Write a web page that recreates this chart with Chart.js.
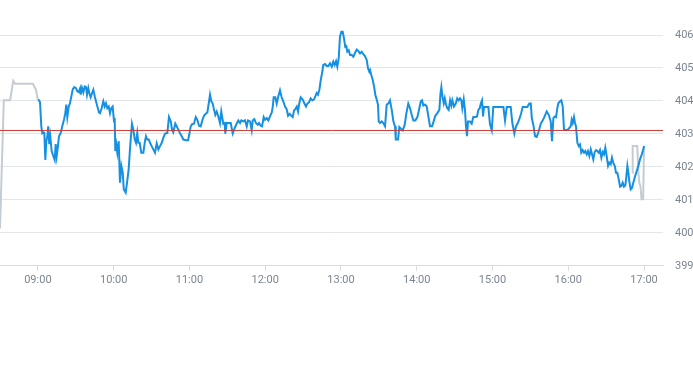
<!DOCTYPE html>
<html>
<head>
<meta charset="utf-8">
<script src="https://cdn.jsdelivr.net/npm/chart.js@4.4.1/dist/chart.umd.min.js"></script>
<style>
    html, body { margin: 0; padding: 0; background: #fff; }
    #wrap { width: 693px; height: 365px; }
</style>
</head>
<body>
<div id="wrap"><canvas id="priceChart" width="693" height="365"></canvas></div>
<script>
const hourTicks = [540, 600, 660, 720, 780, 840, 900, 960, 1020];
const priceTicks = [399, 400, 401, 402, 403, 404, 405, 406];
const referencePrice = 403.105;

// extended hours (grey)
const preTimes = [510, 513, 518, 520.5, 522, 536, 538.5, 540];
const prePrices = [400.13, 404.02, 404.02, 404.61, 404.52, 404.52, 404.34, 404.02];
const postTimes = [1010.6, 1011.0, 1014.6, 1015.5, 1016.3, 1017.2, 1018.0, 1019.3, 1020];
const postPrices = [401.82, 402.63, 402.63, 401.82, 401.52, 401.40, 401.02, 401.02, 402.63];

// regular session (blue)
const dayTimes = [
    540, 540.9, 541.7, 542.7, 543.5, 544.3, 545.1, 545.9, 546.7, 547.5, 548.2, 549.0, 549.8, 550.9, 552.2, 553.3,
    554.1, 554.9, 555.9, 556.7, 558.1, 559.3, 560.7, 561.7, 562.5, 563.3, 564.4, 565.4, 566.5, 567.6, 568.8, 570.2,
    571.2, 572.3, 573.4, 573.9, 574.9, 576.0, 577.1, 578.1, 578.9, 579.9, 580.7, 581.8, 582.9, 583.9, 585.0, 586.0,
    587.1, 588.4, 589.2, 590.5, 591.8, 592.9, 593.9, 595.0, 596.1, 597.1, 598.1, 599.2, 600.3, 600.8, 601.3, 602.1,
    602.9, 604.0, 605.0, 606.1, 607.2, 608.0, 609.5, 610.6, 611.9, 612.9, 614.5, 615.6, 616.7, 617.7, 618.7, 619.5,
    620.6, 621.9, 623.5, 624.8, 625.6, 626.6, 627.8, 628.8, 630.1, 631.4, 632.7, 634.1, 635.4, 636.7, 638.1, 639.3,
    640.7, 642.5, 643.8, 645.2, 646.2, 647.2, 648.8, 649.9, 651.2, 652.5, 653.9, 655.2, 657.3, 658.9, 659.9, 661.0,
    662.3, 663.6, 665.0, 666.2, 667.6, 668.9, 670.2, 671.5, 672.9, 674.2, 675.3, 676.3, 677.3, 678.4, 679.5, 680.5,
    681.6, 682.9, 684.2, 685.2, 686.8, 687.9, 688.4, 689.5, 690.8, 692.7, 694.3, 695.9, 697.4, 698.7, 700.1, 701.1,
    702.7, 704.0, 705.4, 706.4, 708.0, 709.3, 710.1, 711.4, 712.7, 714.1, 715.1, 716.4, 717.5, 718.8, 719.9, 721.2,
    722.5, 723.8, 725.2, 726.0, 726.7, 728.0, 729.1, 730.4, 731.7, 732.8, 734.3, 735.7, 737.0, 738.1, 739.4, 740.7,
    741.8, 742.8, 743.8, 745.0, 746.0, 747.0, 748.1, 749.7, 751.0, 752.3, 753.4, 754.7, 756.0, 757.3, 758.7, 759.7,
    760.8, 761.8, 762.9, 764.0, 765.0, 766.0, 767.4, 768.7, 770.0, 771.3, 772.7, 773.9, 775.0, 776.1, 777.1, 778.2,
    779.2, 780.3, 781.4, 782.4, 783.4, 784.2, 785.0, 786.1, 787.2, 788.5, 789.8, 790.9, 792.5, 793.7, 795.1, 796.4,
    797.7, 799.0, 800.4, 801.4, 802.4, 803.0, 804.0, 805.1, 806.2, 807.2, 808.3, 809.3, 809.9, 810.9, 812.3, 813.5,
    814.9, 816.2, 817.5, 818.8, 820.2, 821.5, 822.8, 823.4, 825.2, 826.2, 827.6, 828.9, 830.5, 831.7, 833.3, 834.7,
    836.0, 837.3, 838.9, 840.5, 841.8, 843.2, 844.2, 845.2, 846.6, 847.9, 849.2, 850.5, 852.1, 853.4, 854.7, 856.3,
    857.9, 858.8, 859.5, 860.3, 861.4, 862.2, 863.2, 864.2, 865.3, 866.4, 867.4, 868.2, 869.5, 870.9, 872.1, 873.2,
    874.3, 875.3, 876.1, 877.2, 878.2, 879.0, 879.8, 880.6, 882.2, 883.5, 884.8, 886.4, 887.7, 888.8, 889.9, 890.7,
    891.7, 892.5, 893.3, 896.7, 898.0, 899.4, 900.6, 908.6, 909.9, 911.3, 914.4, 915.7, 917.3, 918.6, 920.0, 921.2,
    922.6, 923.9, 927.6, 929.1, 930.3, 931.1, 932.3, 933.7, 935.0, 936.6, 938.2, 939.8, 941.3, 942.9, 944.5, 946.1,
    947.1, 948.2, 949.3, 950.3, 951.3, 952.1, 953.5, 954.5, 955.6, 956.6, 958.2, 959.6, 960.8, 961.9, 962.7, 963.5,
    964.5, 965.3, 966.1, 967.2, 968.3, 969.3, 970.3, 971.4, 972.5, 973.5, 974.6, 975.6, 976.7, 977.8, 978.8, 979.8,
    980.9, 982.0, 983.0, 984.1, 985.1, 986.2, 987.3, 988.3, 989.3, 990.4, 991.5, 992.5, 993.6, 994.6, 995.7, 996.8,
    997.8, 998.8, 999.9, 1001.0, 1002.0, 1003.1, 1004.1, 1005.2, 1006.0, 1006.8, 1007.6, 1008.3, 1009.4, 1010.5, 1011.5, 1012.9,
    1014.2, 1015.5, 1016.8, 1018.2, 1019.2, 1020
];
const dayPrices = [
    404.02, 404.02, 403.96, 403.23, 403.02, 403.05, 403.03, 402.21, 402.78, 402.93, 403.23, 402.69, 402.93, 402.48, 402.33, 402.21,
    402.69, 402.33, 402.63, 402.93, 403.03, 403.23, 403.44, 403.63, 403.89, 403.51, 403.83, 403.93, 404.14, 404.35, 404.42, 404.39,
    404.29, 404.27, 404.38, 404.19, 404.40, 404.26, 404.44, 404.42, 404.19, 404.39, 404.24, 404.11, 404.24, 404.34, 404.14, 403.99,
    403.83, 403.65, 403.63, 403.78, 403.99, 403.83, 403.93, 403.78, 403.83, 403.63, 403.78, 403.83, 403.38, 403.48, 402.48, 402.68,
    402.43, 402.78, 401.52, 402.03, 401.82, 401.32, 401.22, 401.52, 401.93, 402.53, 403.31, 403.13, 402.83, 402.73, 403.03, 402.73,
    402.73, 402.43, 402.43, 402.78, 402.93, 402.83, 402.83, 402.73, 402.63, 402.53, 402.43, 402.71, 402.53, 402.63, 402.73, 402.88,
    403.01, 403.03, 403.51, 403.38, 403.13, 403.05, 403.31, 403.23, 403.13, 403.03, 402.93, 402.83, 402.81, 402.81, 402.98, 403.23,
    403.30, 403.31, 403.51, 403.43, 403.25, 403.23, 403.41, 403.55, 403.61, 403.65, 403.93, 404.19, 403.99, 403.92, 403.73, 403.58,
    403.68, 403.53, 403.33, 403.68, 403.31, 403.33, 403.01, 403.33, 403.33, 403.33, 403.01, 403.18, 403.31, 403.41, 403.33, 403.41,
    403.38, 403.41, 403.23, 403.41, 403.38, 403.11, 403.41, 403.45, 403.33, 403.28, 403.33, 403.25, 403.23, 403.51, 403.43, 403.48,
    403.41, 403.53, 403.65, 403.83, 404.11, 404.11, 403.92, 404.14, 404.32, 404.14, 403.99, 403.83, 403.75, 403.55, 403.61, 403.55,
    403.51, 403.71, 403.75, 403.83, 403.68, 403.93, 404.11, 404.04, 403.93, 403.83, 403.92, 403.96, 404.08, 404.02, 404.05, 404.14,
    404.24, 404.19, 404.34, 404.64, 404.84, 405.09, 405.12, 405.06, 405.06, 405.14, 405.04, 405.19, 405.09, 405.21, 405.04, 405.29,
    405.95, 406.10, 406.10, 405.90, 405.64, 405.66, 405.50, 405.54, 405.39, 405.39, 405.34, 405.44, 405.56, 405.52, 405.44, 405.49,
    405.42, 405.36, 405.24, 404.99, 404.89, 404.94, 404.79, 404.64, 404.44, 404.19, 404.04, 403.89, 403.38, 403.33, 403.38, 403.33,
    403.23, 403.89, 403.92, 404.02, 403.73, 403.38, 403.23, 402.83, 402.83, 403.21, 403.15, 403.11, 403.28, 403.61, 403.92, 403.78,
    403.58, 403.41, 403.41, 403.51, 403.73, 403.99, 404.02, 403.86, 403.89, 403.83, 403.53, 403.23, 403.23, 403.38, 403.55, 403.63,
    403.73, 404.23, 404.42, 404.14, 403.93, 404.08, 403.89, 403.78, 403.73, 404.02, 403.86, 404.02, 403.83, 403.92, 404.08, 404.02,
    404.08, 404.02, 403.78, 404.05, 403.73, 403.23, 402.93, 403.38, 403.38, 403.31, 403.51, 403.51, 403.53, 403.73, 403.78, 403.92,
    404.02, 403.53, 403.82, 403.82, 403.29, 403.11, 403.82, 403.82, 403.41, 403.82, 403.82, 403.33, 403.01, 403.23, 403.33, 403.45,
    403.61, 403.82, 403.82, 403.92, 403.92, 403.48, 403.28, 402.93, 402.91, 403.08, 403.31, 403.41, 403.53, 403.68, 403.58, 403.38,
    402.78, 403.48, 403.53, 403.51, 403.78, 403.93, 403.99, 404.02, 403.83, 403.13, 403.11, 403.13, 403.18, 403.23, 403.43, 403.33,
    403.51, 403.33, 403.23, 402.73, 402.63, 402.68, 402.43, 402.51, 402.43, 402.48, 402.38, 402.48, 402.33, 402.53, 402.38, 402.23,
    402.45, 402.51, 402.48, 402.43, 402.51, 402.28, 402.45, 402.38, 402.58, 402.33, 402.03, 402.13, 402.08, 402.28, 402.11, 402.03,
    401.82, 401.82, 401.63, 401.40, 401.42, 401.52, 401.40, 401.44, 401.72, 402.03, 401.82, 401.57, 401.32, 401.37, 401.52, 401.72,
    401.87, 402.03, 402.23, 402.38, 402.51, 402.63
];

function toPoints(times, prices) {
    return times.map((t, i) => ({ x: t, y: prices[i] }));
}

function formatHour(minutes) {
    const h = Math.floor(minutes / 60);
    const m = minutes % 60;
    return String(h).padStart(2, '0') + ':' + String(m).padStart(2, '0');
}

const axisFont = { family: 'Roboto', size: 11 };
const tickColor = '#7b8591';

const ctx = document.getElementById('priceChart').getContext('2d');
new Chart(ctx, {
    type: 'line',
    data: {
        datasets: [
            {
                data: toPoints(dayTimes, dayPrices),
                borderColor: '#1690e0',
                borderWidth: 2,
                pointRadius: 0,
                tension: 0,
                clip: false,
                order: 1
            },
            {
                data: toPoints(preTimes, prePrices),
                borderColor: '#c4ccd2',
                borderWidth: 2,
                pointRadius: 0,
                tension: 0,
                order: 2
            },
            {
                data: toPoints(postTimes, postPrices),
                borderColor: '#c4ccd2',
                borderWidth: 2,
                pointRadius: 0,
                tension: 0,
                order: 2
            },
            {
                data: [{ x: 510, y: referencePrice }, { x: 1035, y: referencePrice }],
                borderColor: '#cc3a32',
                borderWidth: 1,
                pointRadius: 0,
                order: 0
            }
        ]
    },
    options: {
        responsive: false,
        animation: false,
        layout: { padding: { top: 35, bottom: 75, left: 0, right: 0 } },
        plugins: {
            legend: { display: false },
            tooltip: { enabled: false }
        },
        scales: {
            x: {
                type: 'linear',
                min: 510,
                max: 1035,
                afterBuildTicks: scale => {
                    scale.ticks = hourTicks.map(v => ({ value: v }));
                },
                grid: {
                    drawOnChartArea: false,
                    drawTicks: true,
                    tickLength: 5,
                    color: '#d8dce0'
                },
                border: { display: true, color: '#d8dce0' },
                ticks: {
                    autoSkip: false,
                    maxRotation: 0,
                    padding: 3,
                    color: tickColor,
                    font: axisFont,
                    callback: value => formatHour(value)
                }
            },
            y: {
                position: 'right',
                min: 399,
                max: 406,
                afterBuildTicks: scale => {
                    scale.ticks = priceTicks.map(v => ({ value: v }));
                },
                afterFit: scale => {
                    scale.width = 30;
                },
                grid: {
                    drawTicks: false,
                    color: '#e3e6e9'
                },
                border: { display: false },
                ticks: {
                    padding: 12,
                    color: tickColor,
                    font: axisFont
                }
            }
        }
    }
});
</script>
</body>
</html>
